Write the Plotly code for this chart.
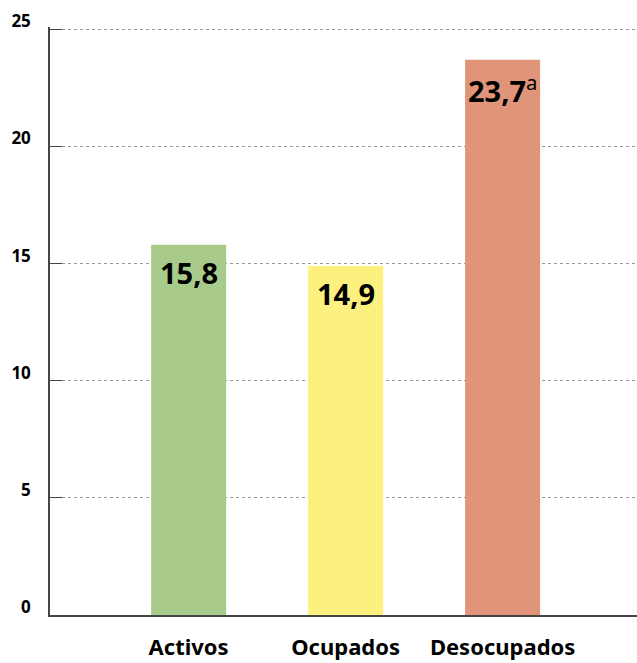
import plotly.graph_objects as go

categories = ["Activos", "Ocupados", "Desocupados"]
values = [15.8, 14.9, 23.7]
value_labels = ["15,8", "14,9", "23,7"]
notes = ["", "", "a"]
colors = ["#a8cb8c", "#fcf07f", "#e0957b"]
y_ticks = [0, 5, 10, 15, 20, 25]

FONT = "Noto Sans"

fig = go.Figure()
fig.add_trace(go.Bar(
    x=categories, y=values, marker=dict(color=colors, line=dict(width=0)),
    width=0.478, hoverinfo="skip",
))

for c, v, lab, n in zip(categories, values, value_labels, notes):
    txt = "<b>" + lab + "</b>" + (f"<sup>{n}</sup>" if n else "")
    fig.add_annotation(x=c, y=v, text=txt, showarrow=False, yanchor="top",
                       yshift=-6, font=dict(family=FONT, size=29, color="#000"))

fig.update_layout(
    width=637, height=663,
    margin=dict(l=50, r=0, t=27, b=48),
    plot_bgcolor="white", paper_bgcolor="white",
    showlegend=False,
    font=dict(family=FONT, color="#000"),
    xaxis=dict(
        range=[-0.883, 2.856], showgrid=False, showline=True,
        linecolor="#444", linewidth=1.5, ticks="", automargin=False,
        tickfont=dict(family=FONT, size=22, color="#000", weight="bold"),
        ticklabelstandoff=12,
    ),
    yaxis=dict(
        range=[0, 25.1], tickvals=y_ticks, showline=True, linecolor="#444",
        linewidth=1.5, ticks="inside", ticklen=12, tickcolor="#444",
        showgrid=True, gridcolor="#999", griddash="dot", gridwidth=1,
        zeroline=False, automargin=False,
        tickfont=dict(family=FONT, size=17, color="#000", weight="bold"),
        ticklabelshift=-8, ticklabelstandoff=14,
    ),
)

fig.write_html("out.html", config={"displayModeBar": False},
               post_script="document.body.style.margin='0';document.body.style.overflow='hidden';")
